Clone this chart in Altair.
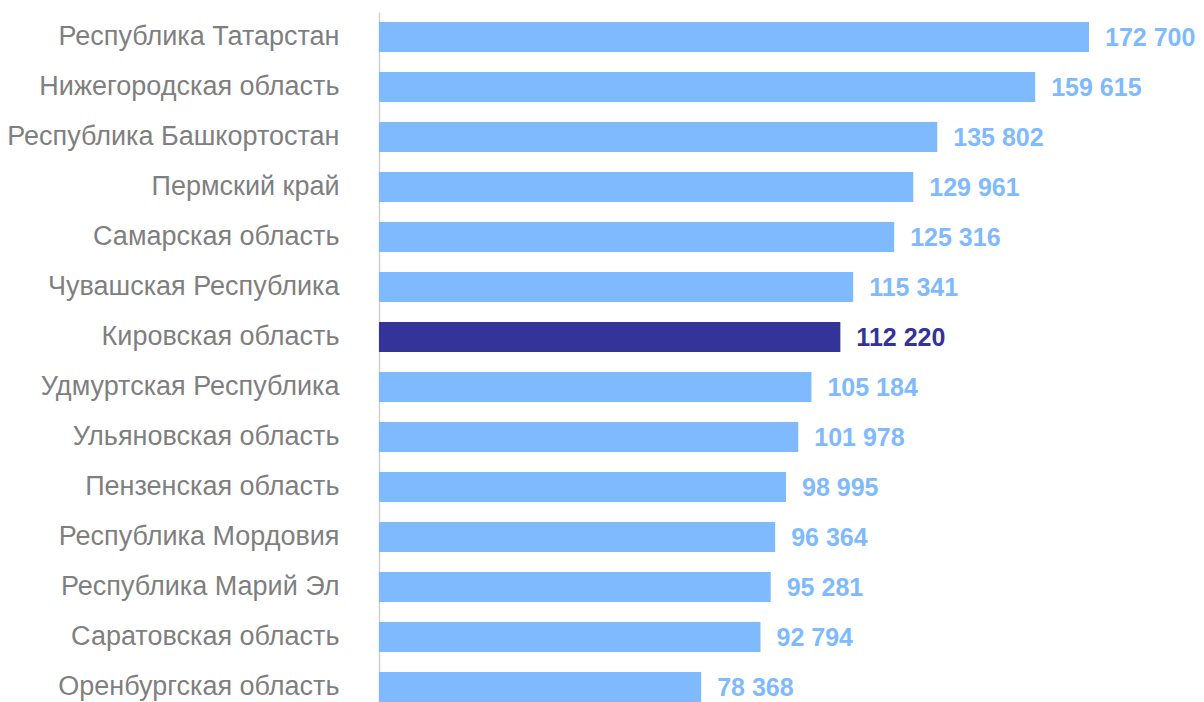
import altair as alt
import pandas as pd

regions = [
    "Республика Татарстан",
    "Нижегородская область",
    "Республика Башкортостан",
    "Пермский край",
    "Самарская область",
    "Чувашская Республика",
    "Кировская область",
    "Удмуртская Республика",
    "Ульяновская область",
    "Пензенская область",
    "Республика Мордовия",
    "Республика Марий Эл",
    "Саратовская область",
    "Оренбургская область",
]
values = [172700, 159615, 135802, 129961, 125316, 115341, 112220,
          105184, 101978, 98995, 96364, 95281, 92794, 78368]
highlight = "Кировская область"

df = pd.DataFrame({
    "region": regions,
    "value": values,
    "label": [f"{v:,}".replace(",", " ") for v in values],
    "group": ["hl" if r == highlight else "base" for r in regions],
})

color_scale = alt.Scale(domain=["base", "hl"], range=["#7fbaff", "#333399"])
y_scale = alt.Scale(paddingInner=0.4, paddingOuter=0.2)
y_enc = alt.Y("region:N", sort=regions, title=None, scale=y_scale,
              axis=alt.Axis(ticks=False, tickSize=0, labelPadding=40,
                            labelFont="Liberation Sans", labelFontSize=27,
                            labelColor="#7f7f7f", domainColor="#d0d0d0",
                            domainWidth=1.5, labelLimit=600))
x_enc = alt.X("value:Q", axis=None,
              scale=alt.Scale(domain=[0, 196780], nice=False, zero=True))

bars = alt.Chart(df).mark_bar().encode(
    y=y_enc, x=x_enc,
    color=alt.Color("group:N", scale=color_scale, legend=None),
)
texts = alt.Chart(df).mark_text(
    align="left", baseline="middle", dx=16, dy=1,
    font="Liberation Sans", fontSize=25, fontWeight="bold",
).encode(
    y=alt.Y("region:N", sort=regions), x="value:Q", text="label:N",
    color=alt.Color("group:N", scale=color_scale, legend=None),
)

chart = (bars + texts).properties(
    width=809, height=700,
    autosize=alt.AutoSizeParams(type="none"),
    padding={"left": 371, "top": 4, "right": 8, "bottom": 0},
).configure_view(stroke=None)

chart.save("out.html", embed_options={"renderer": "svg", "actions": False})
